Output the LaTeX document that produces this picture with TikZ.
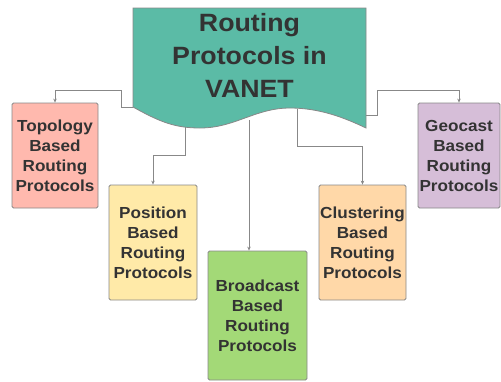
\documentclass[tikz,border=0pt]{standalone}
\usepackage{fontspec}
\setmainfont{Liberation Sans}[FakeStretch=1.07]
\usetikzlibrary{arrows.meta}

\definecolor{docteal}{RGB}{91,187,166}
\definecolor{topofill}{RGB}{255,185,174}
\definecolor{posfill}{RGB}{255,234,168}
\definecolor{bcastfill}{RGB}{163,217,119}
\definecolor{clusfill}{RGB}{255,216,168}
\definecolor{geofill}{RGB}{214,190,216}
\definecolor{edgegray}{RGB}{136,136,136}
\definecolor{txtgray}{RGB}{51,51,51}

\tikzset{
	protobox/.style={draw=edgegray, line width=0.8pt, rounded corners=1.5pt, align=center,
		text=txtgray, font=\fontsize{16}{20}\selectfont\bfseries, inner sep=0pt},
	conn/.style={draw=edgegray, line width=0.7pt, -{Stealth[length=4pt,width=3.5pt]}}
}

\begin{document}
\begin{tikzpicture}[x=1pt, y=-1pt]
				\useasboundingbox (0,0) rectangle (501,381);
				
				% title shape
				\draw[draw=edgegray, line width=0.8pt, fill=docteal] (133,8) -- (366,8) -- (366,128)
				.. controls (345,118) and (320,108) .. (290,108)
				.. controls (255,108) and (235,128) .. (200,128)
				.. controls (175,128) and (160,122) .. (133,107) -- cycle;
				\path (249.5,55) node[align=center, text=txtgray, font=\fontsize{25}{33}\selectfont\bfseries] (title){Routing\\Protocols in\\VANET};
				
				\coordinate (dl) at (133,107);
				\coordinate (dp) at (185,127);
				\coordinate (db) at (249,120);
				\coordinate (dc) at (297,109);
				\coordinate (dg) at (366,115);
				
				\path (55,155.5) node[protobox, fill=topofill, minimum width=86pt, minimum height=105pt] (topo){Topology\\Based\\Routing\\Protocols}
				(153,242.5) node[protobox, fill=posfill, minimum width=88pt, minimum height=115pt] (pos){Position\\Based\\Routing\\Protocols}
				(257.5,315.5) node[protobox, fill=bcastfill, minimum width=99pt, minimum height=129pt] (bcast){Broadcast\\Based\\Routing\\Protocols}
				(362.5,242.5) node[protobox, fill=clusfill, minimum width=87pt, minimum height=115pt] (clus){Clustering\\Based\\Routing\\Protocols}
				(459,155.5) node[protobox, fill=geofill, minimum width=82pt, minimum height=105pt] (geo){Geocast\\Based\\Routing\\Protocols};
				
				\draw[conn] (dl) -- ++(-12,0) |- ([yshift=12pt]topo.north) -- (topo.north);
				\draw[conn] (dp) |- ([yshift=29pt]pos.north) -- (pos.north);
				\draw[conn] (db) -- (db |- bcast.north);
				\draw[conn] (dc) |- ([yshift=38pt]clus.north) -- (clus.north);
				\draw[conn] (dg) -- ++(11,0) |- ([yshift=12pt]geo.north) -- (geo.north);
			\end{tikzpicture}
\end{document}
